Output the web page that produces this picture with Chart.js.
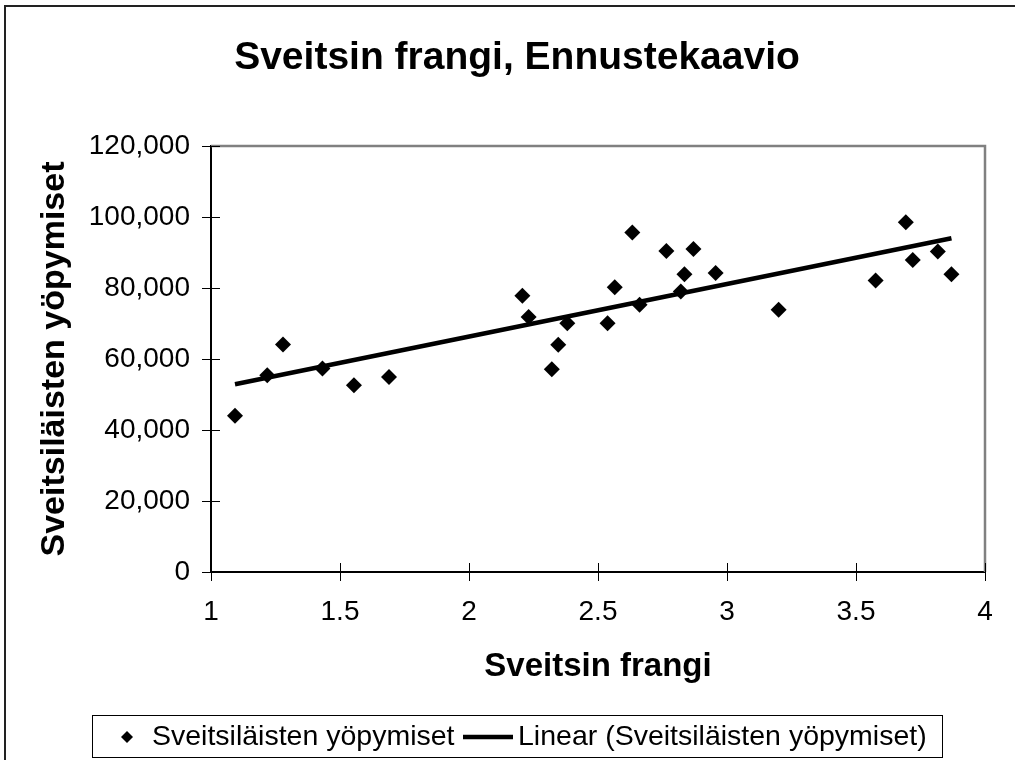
<!DOCTYPE html>
<html>
<head>
<meta charset="utf-8">
<script src="https://cdn.jsdelivr.net/npm/chart.js@4/dist/chart.umd.min.js"></script>
<style>
  html, body { margin: 0; padding: 0; background: #fff; }
  #wrap { width: 1015px; height: 760px; position: relative; }
</style>
</head>
<body>
<div id="wrap"><canvas id="chart"></canvas></div>
<script>
const frangi = [1.093, 1.218, 1.279, 1.432, 1.554, 1.690, 2.207, 2.231, 2.321, 2.346, 2.381, 2.537, 2.565,
                2.633, 2.661, 2.765, 2.821, 2.835, 2.870, 2.956, 3.200, 3.576, 3.693, 3.720, 3.817, 3.870];
const yopymiset = [44000, 55400, 64100, 57300, 52600, 54900, 77800, 71800, 57100, 64000, 70100, 70100, 80200,
                   95600, 75300, 90400, 79000, 83900, 91000, 84200, 73900, 82100, 98500, 87900, 90300, 83900];
const xTicks = [1, 1.5, 2, 2.5, 3, 3.5, 4];
const yTicks = [0, 20000, 40000, 60000, 80000, 100000, 120000];

const seriesName = 'Sveitsiläisten yöpymiset';
const trendName = 'Linear (Sveitsiläisten yöpymiset)';

// least squares trend line, drawn between smallest and largest x
function linearTrend(xs, ys) {
    const n = xs.length;
    const mx = xs.reduce((a, b) => a + b, 0) / n;
    const my = ys.reduce((a, b) => a + b, 0) / n;
    let sxy = 0, sxx = 0;
    for (let i = 0; i < n; i++) {
        sxy += (xs[i] - mx) * (ys[i] - my);
        sxx += (xs[i] - mx) * (xs[i] - mx);
    }
    const k = sxy / sxx;
    const x0 = Math.min(...xs), x1 = Math.max(...xs);
    return [{x: x0, y: my + k * (x0 - mx)}, {x: x1, y: my + k * (x1 - mx)}];
}

const FONT = "'Liberation Sans', Arial, sans-serif";

const frames = {
    id: 'frames',
    beforeDatasetsDraw(chart) {
        const {ctx, chartArea: a} = chart;
        ctx.save();
        // plot area border (top and right)
        ctx.strokeStyle = '#808080';
        ctx.lineWidth = 2.5;
        ctx.beginPath();
        ctx.moveTo(a.left, a.top);
        ctx.lineTo(a.right, a.top);
        ctx.lineTo(a.right, a.bottom);
        ctx.stroke();
        // inner half of the crossing tick marks
        ctx.strokeStyle = '#000';
        ctx.lineWidth = 1;
        ctx.beginPath();
        yTicks.forEach(v => {
            const py = Math.round(chart.scales.y.getPixelForValue(v)) + 0.5;
            ctx.moveTo(a.left, py);
            ctx.lineTo(a.left + 9, py);
        });
        xTicks.forEach(v => {
            const px = Math.round(chart.scales.x.getPixelForValue(v)) + 0.5;
            ctx.moveTo(px, a.bottom);
            ctx.lineTo(px, a.bottom - 9);
        });
        ctx.stroke();
        ctx.restore();
    },
    afterDraw(chart) {
        const ctx = chart.ctx;
        ctx.save();
        // outer chart border
        ctx.strokeStyle = '#222';
        ctx.lineWidth = 2;
        ctx.strokeRect(5, 6, 1100, 1000);

        // legend
        ctx.strokeStyle = '#000';
        ctx.lineWidth = 1;
        ctx.strokeRect(92.5, 715.5, 850, 42);
        const cy = 737;
        ctx.fillStyle = '#000';
        ctx.beginPath();
        ctx.moveTo(127, cy - 6);
        ctx.lineTo(133, cy);
        ctx.lineTo(127, cy + 6);
        ctx.lineTo(121, cy);
        ctx.closePath();
        ctx.fill();
        ctx.font = '28.5px ' + FONT;
        ctx.textBaseline = 'middle';
        ctx.textAlign = 'left';
        ctx.fillText(chart.data.datasets[0].label, 152, cy);
        ctx.lineWidth = 4.5;
        ctx.beginPath();
        ctx.moveTo(463, cy);
        ctx.lineTo(513, cy);
        ctx.stroke();
        ctx.fillText(chart.data.datasets[1].label, 518, cy);
        ctx.restore();
    }
};

new Chart(document.getElementById('chart'), {
    type: 'scatter',
    data: {
        datasets: [{
            label: seriesName,
            data: frangi.map((x, i) => ({x: x, y: yopymiset[i]})),
            pointStyle: 'rectRot',
            pointRadius: 8,
            pointHoverRadius: 8,
            backgroundColor: '#000',
            borderColor: '#000',
            borderWidth: 0
        }, {
            label: trendName,
            type: 'line',
            data: linearTrend(frangi, yopymiset),
            showLine: true,
            borderColor: '#000',
            borderWidth: 4.5,
            pointRadius: 0,
            fill: false
        }]
    },
    options: {
        responsive: true,
        maintainAspectRatio: false,
        animation: false,
        layout: {
            padding: {left: 49, right: 30, top: 0, bottom: 0}
        },
        plugins: {
            legend: {display: false},
            tooltip: {enabled: false},
            title: {
                display: true,
                text: 'Sveitsin frangi, Ennustekaavio',
                color: '#000',
                font: {family: FONT, size: 39, weight: 'bold', lineHeight: 1.2},
                padding: {top: 34.6, bottom: 64.6}
            }
        },
        scales: {
            x: {
                type: 'linear',
                min: 1,
                max: 4,
                afterFit(scale) { scale.height = 188; },
                afterBuildTicks(scale) { scale.ticks = xTicks.map(v => ({value: v})); },
                ticks: {
                    color: '#000',
                    font: {family: FONT, size: 28},
                    padding: 14,
                    maxRotation: 0,
                    callback: v => String(v)
                },
                grid: {
                    drawOnChartArea: false,
                    drawTicks: true,
                    tickLength: 9,
                    color: '#000',
                    lineWidth: 1
                },
                border: {display: true, color: '#000', width: 2},
                title: {
                    display: true,
                    text: 'Sveitsin frangi',
                    color: '#000',
                    font: {family: FONT, size: 33, weight: 'bold', lineHeight: 1.2},
                    padding: {top: 0, bottom: 73.2}
                }
            },
            y: {
                type: 'linear',
                min: 0,
                max: 120000,
                afterFit(scale) { scale.width = 162; },
                afterBuildTicks(scale) { scale.ticks = yTicks.map(v => ({value: v})); },
                ticks: {
                    color: '#000',
                    font: {family: FONT, size: 28},
                    padding: 12,
                    callback: v => v.toLocaleString('en-US')
                },
                grid: {
                    drawOnChartArea: false,
                    drawTicks: true,
                    tickLength: 9,
                    color: '#000',
                    lineWidth: 1
                },
                border: {display: true, color: '#000', width: 2},
                title: {
                    display: true,
                    text: 'Sveitsiläisten yöpymiset',
                    color: '#000',
                    font: {family: FONT, size: 34, weight: 'bold', lineHeight: 1.2},
                    padding: {top: -14.4, bottom: 0}
                }
            }
        }
    },
    plugins: [frames]
});
</script>
</body>
</html>
